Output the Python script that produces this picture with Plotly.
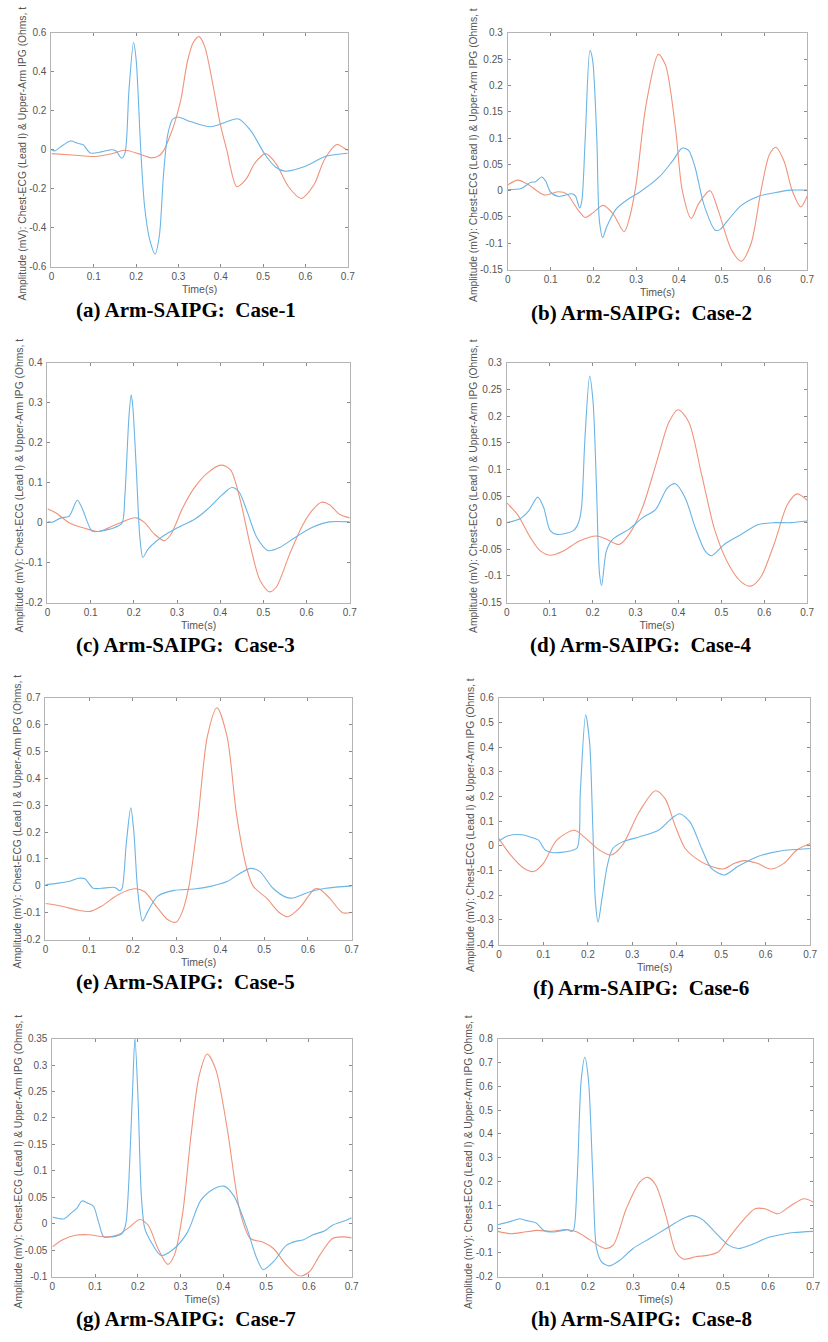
import plotly.graph_objects as go

# ---------------- data (time in s, amplitude) ----------------
time_ticks = [0, 0.1, 0.2, 0.3, 0.4, 0.5, 0.6, 0.7]
time_labels = ["0", "0.1", "0.2", "0.3", "0.4", "0.5", "0.6", "0.7"]

# (a) Case-1
a_ecg_t = [0, 0.008, 0.02, 0.045, 0.062, 0.075, 0.092, 0.12, 0.142, 0.152, 0.166, 0.174, 0.183, 0.194, 0.2, 0.211, 0.22, 0.232, 0.245, 0.255, 0.265, 0.275, 0.286, 0.298, 0.33, 0.376, 0.41, 0.442, 0.47, 0.506, 0.53, 0.551, 0.6, 0.648, 0.7]
a_ecg_v = [0, -0.006, 0.012, 0.045, 0.033, 0.025, -0.017, -0.01, 0.0, -0.005, -0.044, -0.015, 0.3, 0.55, 0.465, 0.0, -0.29, -0.46, -0.535, -0.44, -0.12, 0.08, 0.155, 0.168, 0.143, 0.118, 0.14, 0.158, 0.1, -0.03, -0.09, -0.11, -0.085, -0.034, -0.018]
a_ipg_t = [0, 0.05, 0.103, 0.14, 0.173, 0.205, 0.236, 0.255, 0.267, 0.28, 0.29, 0.306, 0.321, 0.335, 0.349, 0.362, 0.38, 0.399, 0.414, 0.438, 0.46, 0.48, 0.506, 0.53, 0.56, 0.59, 0.62, 0.645, 0.674, 0.69, 0.7]
a_ipg_v = [-0.02, -0.027, -0.035, -0.022, -0.003, -0.02, -0.042, -0.03, 0.003, 0.07, 0.13, 0.26, 0.45, 0.55, 0.58, 0.53, 0.35, 0.13, 0.0, -0.19, -0.15, -0.07, -0.02, -0.07, -0.19, -0.25, -0.18, -0.05, 0.027, 0.01, -0.005]

# (b) Case-2
b_ecg_t = [0, 0.031, 0.054, 0.065, 0.079, 0.088, 0.1, 0.119, 0.15, 0.158, 0.168, 0.173, 0.181, 0.192, 0.198, 0.208, 0.214, 0.222, 0.231, 0.254, 0.285, 0.308, 0.354, 0.385, 0.408, 0.423, 0.438, 0.458, 0.485, 0.496, 0.515, 0.546, 0.585, 0.623, 0.662, 0.7]
b_ecg_v = [0.002, 0.004, 0.016, 0.017, 0.026, 0.019, -0.003, -0.011, -0.006, -0.01, -0.033, -0.02, 0.1, 0.266, 0.25, 0.1, -0.056, -0.089, -0.069, -0.034, -0.014, -0.003, 0.026, 0.056, 0.081, 0.076, 0.044, -0.025, -0.075, -0.074, -0.056, -0.028, -0.011, -0.004, 0.001, 0.001]
b_ipg_t = [0, 0.023, 0.046, 0.085, 0.119, 0.138, 0.162, 0.181, 0.196, 0.223, 0.246, 0.272, 0.285, 0.3, 0.323, 0.352, 0.369, 0.392, 0.408, 0.429, 0.446, 0.473, 0.492, 0.523, 0.546, 0.569, 0.592, 0.612, 0.627, 0.646, 0.665, 0.685, 0.7]
b_ipg_v = [0.011, 0.02, 0.0125, -0.008, -0.002, -0.006, -0.034, -0.051, -0.044, -0.028, -0.044, -0.078, -0.05, 0.0125, 0.162, 0.259, 0.238, 0.119, 0.0, -0.053, -0.025, 0.0, -0.0375, -0.1125, -0.134, -0.1, 0.0, 0.069, 0.0825, 0.056, 0.0, -0.031, -0.01]

# (c) Case-3
c_ecg_t = [0, 0.011, 0.031, 0.05, 0.069, 0.08, 0.103, 0.118, 0.156, 0.173, 0.179, 0.189, 0.194, 0.198, 0.206, 0.214, 0.221, 0.233, 0.263, 0.302, 0.34, 0.37, 0.405, 0.427, 0.443, 0.462, 0.485, 0.511, 0.538, 0.576, 0.615, 0.653, 0.7]
c_ecg_v = [0.002, 0.001, 0.012, 0.016, 0.056, 0.037, -0.021, -0.022, -0.012, 0.0, 0.062, 0.27, 0.32, 0.285, 0.128, -0.037, -0.087, -0.066, -0.037, -0.012, 0.008, 0.033, 0.07, 0.088, 0.078, 0.029, -0.037, -0.07, -0.062, -0.035, -0.011, 0.002, 0.002]
c_ipg_t = [0, 0.019, 0.05, 0.08, 0.118, 0.156, 0.187, 0.206, 0.225, 0.248, 0.271, 0.286, 0.313, 0.34, 0.37, 0.402, 0.424, 0.447, 0.469, 0.492, 0.514, 0.53, 0.561, 0.592, 0.615, 0.634, 0.653, 0.676, 0.7]
c_ipg_v = [0.035, 0.025, 0.0, -0.012, -0.022, -0.006, 0.008, 0.012, 0.0, -0.029, -0.045, -0.029, 0.037, 0.087, 0.124, 0.144, 0.132, 0.054, -0.054, -0.144, -0.173, -0.161, -0.078, -0.004, 0.033, 0.051, 0.045, 0.021, 0.012]

# (d) Case-4
d_ecg_t = [0, 0.032, 0.051, 0.072, 0.086, 0.101, 0.117, 0.155, 0.167, 0.174, 0.182, 0.193, 0.201, 0.209, 0.216, 0.221, 0.232, 0.247, 0.285, 0.316, 0.347, 0.374, 0.393, 0.416, 0.439, 0.462, 0.477, 0.508, 0.546, 0.585, 0.623, 0.662, 0.7]
d_ecg_v = [0.0, 0.008, 0.022, 0.048, 0.028, -0.015, -0.022, -0.015, 0.0, 0.028, 0.158, 0.275, 0.226, 0.065, -0.096, -0.118, -0.053, -0.031, -0.012, 0.009, 0.025, 0.065, 0.073, 0.046, -0.009, -0.053, -0.062, -0.04, -0.022, -0.004, 0.0, 0.0, 0.003]
d_ipg_t = [0, 0.025, 0.055, 0.078, 0.101, 0.132, 0.17, 0.209, 0.232, 0.262, 0.285, 0.316, 0.347, 0.378, 0.399, 0.424, 0.454, 0.485, 0.516, 0.546, 0.569, 0.592, 0.623, 0.654, 0.677, 0.7]
d_ipg_v = [0.037, 0.015, -0.028, -0.053, -0.061, -0.053, -0.034, -0.025, -0.031, -0.041, -0.022, 0.028, 0.108, 0.189, 0.212, 0.189, 0.09, -0.015, -0.077, -0.111, -0.119, -0.102, -0.04, 0.034, 0.054, 0.042]

# (e) Case-5
e_ecg_t = [0, 0.03, 0.057, 0.075, 0.09, 0.109, 0.128, 0.158, 0.17, 0.175, 0.185, 0.195, 0.202, 0.211, 0.222, 0.234, 0.256, 0.294, 0.339, 0.377, 0.415, 0.445, 0.469, 0.49, 0.52, 0.551, 0.566, 0.603, 0.641, 0.7]
e_ecg_v = [0.004, 0.01, 0.018, 0.028, 0.026, -0.009, -0.009, -0.006, -0.018, -0.01, 0.163, 0.29, 0.2, -0.021, -0.131, -0.095, -0.039, -0.017, -0.012, -0.002, 0.016, 0.047, 0.065, 0.053, -0.009, -0.043, -0.045, -0.023, -0.009, 0.0]
e_ipg_t = [0, 0.038, 0.075, 0.102, 0.128, 0.166, 0.204, 0.226, 0.256, 0.279, 0.299, 0.313, 0.328, 0.347, 0.37, 0.392, 0.415, 0.437, 0.46, 0.475, 0.505, 0.535, 0.554, 0.581, 0.615, 0.626, 0.649, 0.679, 0.7]
e_ipg_v = [-0.066, -0.076, -0.091, -0.095, -0.076, -0.033, -0.011, -0.021, -0.082, -0.125, -0.135, -0.095, 0.0, 0.225, 0.556, 0.663, 0.556, 0.262, 0.065, -0.002, -0.045, -0.1, -0.115, -0.082, -0.012, -0.012, -0.045, -0.1, -0.098]

# (f) Case-6
f_ecg_t = [0, 0.019, 0.052, 0.07, 0.089, 0.104, 0.122, 0.159, 0.176, 0.183, 0.195, 0.204, 0.211, 0.217, 0.223, 0.232, 0.244, 0.256, 0.278, 0.315, 0.359, 0.389, 0.407, 0.43, 0.456, 0.478, 0.507, 0.537, 0.581, 0.633, 0.7]
f_ecg_v = [0.019, 0.04, 0.045, 0.036, 0.023, -0.017, -0.028, -0.021, -0.008, 0.217, 0.531, 0.417, 0.083, -0.225, -0.309, -0.211, -0.078, -0.011, 0.016, 0.036, 0.063, 0.112, 0.13, 0.096, -0.011, -0.091, -0.118, -0.084, -0.044, -0.021, -0.011]
f_ipg_t = [0, 0.026, 0.056, 0.078, 0.1, 0.13, 0.17, 0.196, 0.226, 0.252, 0.278, 0.315, 0.352, 0.374, 0.396, 0.419, 0.448, 0.478, 0.504, 0.53, 0.552, 0.581, 0.611, 0.641, 0.67, 0.7]
f_ipg_v = [0.029, -0.037, -0.091, -0.104, -0.071, 0.023, 0.063, 0.029, -0.017, -0.037, 0.003, 0.136, 0.223, 0.19, 0.083, -0.011, -0.057, -0.084, -0.094, -0.071, -0.06, -0.071, -0.094, -0.071, -0.017, 0.009]

# (g) Case-7
g_ecg_t = [0, 0.027, 0.042, 0.058, 0.069, 0.085, 0.096, 0.108, 0.12, 0.139, 0.162, 0.171, 0.177, 0.187, 0.193, 0.2, 0.208, 0.216, 0.231, 0.254, 0.285, 0.316, 0.347, 0.378, 0.401, 0.424, 0.455, 0.478, 0.493, 0.517, 0.547, 0.571, 0.586, 0.609, 0.636, 0.655, 0.686, 0.7]
g_ecg_v = [0.0125, 0.009, 0.019, 0.03, 0.043, 0.038, 0.033, 0.003, -0.025, -0.025, -0.019, -0.003, 0.053, 0.242, 0.351, 0.242, 0.053, -0.009, -0.035, -0.06, -0.047, -0.016, 0.044, 0.066, 0.071, 0.053, -0.009, -0.066, -0.087, -0.072, -0.041, -0.033, -0.031, -0.021, -0.014, -0.003, 0.006, 0.011]
g_ipg_t = [0, 0.023, 0.054, 0.085, 0.123, 0.154, 0.181, 0.204, 0.224, 0.247, 0.27, 0.285, 0.305, 0.324, 0.343, 0.362, 0.382, 0.409, 0.439, 0.463, 0.493, 0.517, 0.547, 0.578, 0.601, 0.625, 0.655, 0.678, 0.7]
g_ipg_v = [-0.044, -0.031, -0.022, -0.021, -0.025, -0.021, -0.006, 0.008, -0.003, -0.047, -0.077, -0.06, 0.022, 0.166, 0.279, 0.321, 0.292, 0.179, 0.022, -0.028, -0.035, -0.047, -0.078, -0.099, -0.091, -0.06, -0.028, -0.025, -0.027]

# (h) Case-8
h_ecg_t = [0, 0.029, 0.048, 0.062, 0.084, 0.102, 0.117, 0.139, 0.154, 0.163, 0.168, 0.176, 0.185, 0.193, 0.201, 0.211, 0.219, 0.23, 0.247, 0.271, 0.3, 0.337, 0.373, 0.41, 0.43, 0.454, 0.483, 0.512, 0.534, 0.563, 0.6, 0.636, 0.658, 0.7]
h_ecg_v = [0.018, 0.032, 0.043, 0.036, 0.026, -0.006, -0.013, -0.008, -0.003, -0.01, -0.004, 0.21, 0.628, 0.722, 0.628, 0.21, -0.082, -0.138, -0.155, -0.131, -0.082, -0.04, 0.001, 0.043, 0.056, 0.04, -0.015, -0.068, -0.082, -0.066, -0.036, -0.021, -0.015, -0.01]
h_ipg_t = [0, 0.029, 0.059, 0.088, 0.117, 0.154, 0.176, 0.205, 0.238, 0.256, 0.285, 0.315, 0.333, 0.351, 0.373, 0.395, 0.413, 0.439, 0.468, 0.49, 0.512, 0.541, 0.571, 0.593, 0.622, 0.651, 0.68, 0.7]
h_ipg_v = [-0.01, -0.02, -0.013, -0.006, -0.01, -0.003, -0.013, -0.047, -0.082, -0.068, 0.085, 0.197, 0.217, 0.183, 0.057, -0.096, -0.127, -0.117, -0.11, -0.096, -0.04, 0.029, 0.085, 0.085, 0.064, 0.099, 0.127, 0.113]

# y tick values / labels per panel
a_yticks = [-0.6, -0.4, -0.2, 0, 0.2, 0.4, 0.6]
a_ylabels = ["-0.6", "-0.4", "-0.2", "0", "0.2", "0.4", "0.6"]
b_yticks = [-0.15, -0.1, -0.05, 0, 0.05, 0.1, 0.15, 0.2, 0.25, 0.3]
b_ylabels = ["-0.15", "-0.1", "-0.05", "0", "0.05", "0.1", "0.15", "0.2", "0.25", "0.3"]
c_yticks = [-0.2, -0.1, 0, 0.1, 0.2, 0.3, 0.4]
c_ylabels = ["-0.2", "-0.1", "0", "0.1", "0.2", "0.3", "0.4"]
d_yticks = b_yticks
d_ylabels = b_ylabels
e_yticks = [-0.2, -0.1, 0, 0.1, 0.2, 0.3, 0.4, 0.5, 0.6, 0.7]
e_ylabels = ["-0.2", "-0.1", "0", "0.1", "0.2", "0.3", "0.4", "0.5", "0.6", "0.7"]
f_yticks = [-0.4, -0.3, -0.2, -0.1, 0, 0.1, 0.2, 0.3, 0.4, 0.5, 0.6]
f_ylabels = ["-0.4", "-0.3", "-0.2", "-0.1", "0", "0.1", "0.2", "0.3", "0.4", "0.5", "0.6"]
g_yticks = [-0.1, -0.05, 0, 0.05, 0.1, 0.15, 0.2, 0.25, 0.3, 0.35]
g_ylabels = ["-0.1", "-0.05", "0", "0.05", "0.1", "0.15", "0.2", "0.25", "0.3", "0.35"]
h_yticks = [-0.2, -0.1, 0, 0.1, 0.2, 0.3, 0.4, 0.5, 0.6, 0.7, 0.8]
h_ylabels = ["-0.2", "-0.1", "0", "0.1", "0.2", "0.3", "0.4", "0.5", "0.6", "0.7", "0.8"]

captions = ["(a) Arm-SAIPG:\u00a0 Case-1", "(b) Arm-SAIPG:\u00a0 Case-2",
            "(c) Arm-SAIPG:\u00a0 Case-3", "(d) Arm-SAIPG:\u00a0 Case-4",
            "(e) Arm-SAIPG:\u00a0 Case-5", "(f) Arm-SAIPG:\u00a0 Case-6",
            "(g) Arm-SAIPG:\u00a0 Case-7", "(h) Arm-SAIPG:\u00a0 Case-8"]
ylabel_text = "Amplitude (mV): Chest-ECG (Lead I) & Upper-Arm IPG (Ohms, t"
xlabel_text = "Time(s)"

# ---------------- layout geometry (pixels) ----------------
W, H = 828, 1342
panels = [
    dict(ecg=(a_ecg_t, a_ecg_v), ipg=(a_ipg_t, a_ipg_v), yt=a_yticks, yl=a_ylabels, box=(49, 349, 27, 263), cap=(185, 307), yla=(20, 149)),
    dict(ecg=(b_ecg_t, b_ecg_v), ipg=(b_ipg_t, b_ipg_v), yt=b_yticks, yl=b_ylabels, box=(511, 814, 27, 266), cap=(646, 310), yla=(476, 150)),
    dict(ecg=(c_ecg_t, c_ecg_v), ipg=(c_ipg_t, c_ipg_v), yt=c_yticks, yl=c_ylabels, box=(45, 351, 360, 602), cap=(185, 645), yla=(17, 484)),
    dict(ecg=(d_ecg_t, d_ecg_v), ipg=(d_ipg_t, d_ipg_v), yt=d_yticks, yl=d_ylabels, box=(510, 814, 360, 602), cap=(646, 645), yla=(476, 484)),
    dict(ecg=(e_ecg_t, e_ecg_v), ipg=(e_ipg_t, e_ipg_v), yt=e_yticks, yl=e_ylabels, box=(43, 353, 698, 942), cap=(185, 985), yla=(15, 823)),
    dict(ecg=(f_ecg_t, f_ecg_v), ipg=(f_ipg_t, f_ipg_v), yt=f_yticks, yl=f_ylabels, box=(502, 817, 698, 947), cap=(646, 991), yla=(473, 826)),
    dict(ecg=(g_ecg_t, g_ecg_v), ipg=(g_ipg_t, g_ipg_v), yt=g_yticks, yl=g_ylabels, box=(50, 353, 1042, 1282), cap=(185, 1325), yla=(16, 1166)),
    dict(ecg=(h_ecg_t, h_ecg_v), ipg=(h_ipg_t, h_ipg_v), yt=h_yticks, yl=h_ylabels, box=(501, 820, 1042, 1282), cap=(646, 1325), yla=(471, 1166)),
]

ECG_COLOR = "#6AB4E6"
IPG_COLOR = "#F0937A"
AX_COLOR = "#B4B4B4"
TXT_COLOR = "#555555"
SANS = "Liberation Sans, Arial, Helvetica, sans-serif"
SERIF = "Liberation Serif, Times New Roman, serif"

fig = go.Figure()
annotations = []
layout_axes = {}

for i, p in enumerate(panels):
    k = "" if i == 0 else str(i + 1)
    xname, yname = "x" + k, "y" + k
    x0, x1, y0, y1 = p["box"]
    fig.add_trace(go.Scatter(x=p["ipg"][0], y=p["ipg"][1], mode="lines",
                             line=dict(color=IPG_COLOR, width=1.1, shape="spline", smoothing=0.8),
                             xaxis=xname, yaxis=yname, showlegend=False, hoverinfo="skip"))
    fig.add_trace(go.Scatter(x=p["ecg"][0], y=p["ecg"][1], mode="lines",
                             line=dict(color=ECG_COLOR, width=1.1, shape="spline", smoothing=0.8),
                             xaxis=xname, yaxis=yname, showlegend=False, hoverinfo="skip"))
    common = dict(showline=True, linecolor=AX_COLOR, linewidth=1, mirror="ticks",
                  ticks="inside", ticklen=3, tickcolor="#8A8A8A", tickwidth=1,
                  showgrid=False, zeroline=False,
                  tickfont=dict(family=SANS, size=10, color=TXT_COLOR))
    layout_axes["xaxis" + k] = dict(common, domain=[x0 / W, x1 / W], anchor=yname,
                                     range=[0, 0.7], tickvals=time_ticks, ticktext=time_labels,
                                     title=dict(text=xlabel_text, font=dict(family=SANS, size=10.5, color=TXT_COLOR), standoff=5))
    layout_axes["yaxis" + k] = dict(common, domain=[1 - y1 / H, 1 - y0 / H], anchor=xname,
                                     range=[p["yt"][0], p["yt"][-1]], tickvals=p["yt"], ticktext=p["yl"],
                                     ticklabelstandoff=2)
    cx, cy = p["cap"]
    annotations.append(dict(text=captions[i], x=cx / W, y=1 - cy / H, xref="paper", yref="paper",
                            xanchor="center", yanchor="middle", showarrow=False,
                            font=dict(family=SERIF, size=21, color="#000000", weight="bold")))
    lx, ly = p["yla"]
    annotations.append(dict(text=ylabel_text, x=lx / W, y=1 - ly / H, xref="paper", yref="paper",
                            xanchor="center", yanchor="middle", showarrow=False, textangle=-90,
                            font=dict(family=SANS, size=10.3, color=TXT_COLOR)))

fig.update_layout(width=W, height=H, margin=dict(l=0, r=0, t=0, b=0),
                  paper_bgcolor="white", plot_bgcolor="white",
                  annotations=annotations, **layout_axes)

fig.write_html("out.html")
